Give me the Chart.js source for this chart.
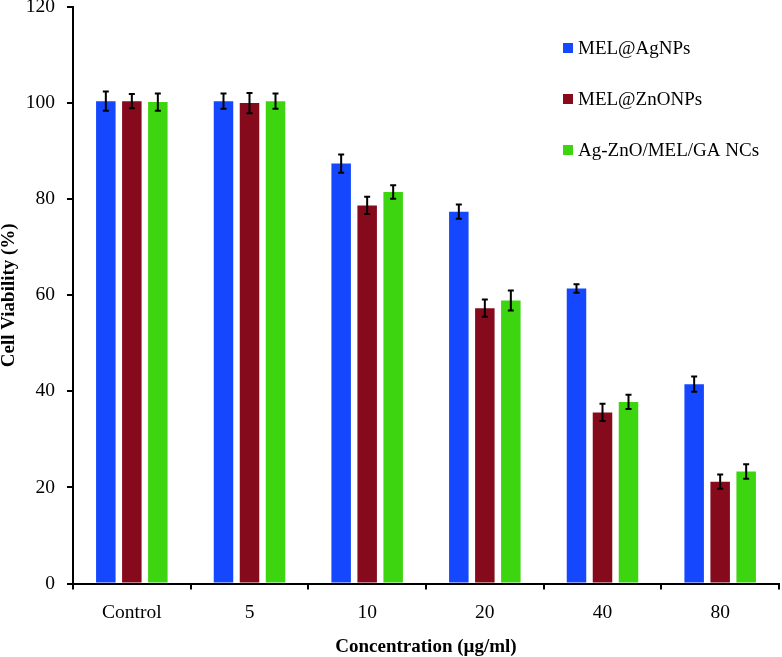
<!DOCTYPE html>
<html>
<head>
    <title>Cell Viability</title>
    <script src="https://cdn.jsdelivr.net/npm/chart.js"></script>
    <style>
        body { margin: 0; background: #fff; }
    </style>
</head>
<body>
    <canvas id="viabilidad" width="782" height="657"></canvas>

    <script>
        // datos
        var concentraciones = ['Control', '5', '10', '20', '40', '80'];
        var series = ['MEL@AgNPs', 'MEL@ZnONPs', 'Ag-ZnO/MEL/GA NCs'];
        var agNPs = [100.4, 100.4, 87.4, 77.4, 61.4, 41.5];
        var znoNPs = [100.4, 100.0, 78.7, 57.3, 35.6, 21.2];
        var agZnO = [100.2, 100.4, 81.5, 58.9, 37.8, 23.3];
        var errAgNPs = [2.0, 1.6, 1.9, 1.5, 0.9, 1.6];
        var errZnONPs = [1.5, 2.1, 1.8, 1.8, 1.8, 1.5];
        var errAgZnO = [1.8, 1.6, 1.4, 2.1, 1.5, 1.5];
        var yTicks = [0, 20, 40, 60, 80, 100, 120];

        var colores = ['#1447fe', '#850b1c', '#3dd510'];
        var fuente = 'Liberation Serif, Times New Roman, serif';

        // barras de error
        var errorBars = {
            id: 'errorBars',
            afterDatasetsDraw: function(chart) {
                var ctx = chart.ctx;
                var y = chart.scales.y;
                ctx.save();
                ctx.strokeStyle = '#000';
                ctx.lineWidth = 2;
                chart.data.datasets.forEach(function(ds, i) {
                    var meta = chart.getDatasetMeta(i);
                    meta.data.forEach(function(bar, j) {
                        var v = ds.data[j], e = ds.errores[j];
                        var top = y.getPixelForValue(v + e);
                        var bot = y.getPixelForValue(v - e);
                        ctx.beginPath();
                        ctx.moveTo(bar.x, top); ctx.lineTo(bar.x, bot);
                        ctx.moveTo(bar.x - 3, top); ctx.lineTo(bar.x + 3, top);
                        ctx.moveTo(bar.x - 3, bot); ctx.lineTo(bar.x + 3, bot);
                        ctx.stroke();
                    });
                });
                ctx.restore();
            }
        };

        // leyenda dentro del area
        var leyenda = {
            id: 'leyenda',
            afterDraw: function(chart) {
                var ctx = chart.ctx;
                ctx.save();
                ctx.font = '19px ' + fuente;
                ctx.textBaseline = 'middle';
                chart.data.datasets.forEach(function(ds, i) {
                    var cy = 48 + i * 51;
                    ctx.fillStyle = ds.backgroundColor;
                    ctx.fillRect(563, cy - 5, 10, 10);
                    ctx.fillStyle = '#000';
                    ctx.fillText(ds.label, 578, cy + 1);
                });
                ctx.restore();
            }
        };

        var ctx1 = document.getElementById('viabilidad').getContext('2d');
        var chart1 = new Chart(ctx1, {
            type: 'bar',
            data: {
                labels: concentraciones,
                datasets: [
                    { label: series[0], data: agNPs, errores: errAgNPs, backgroundColor: colores[0] },
                    { label: series[1], data: znoNPs, errores: errZnONPs, backgroundColor: colores[1] },
                    { label: series[2], data: agZnO, errores: errAgZnO, backgroundColor: colores[2] }
                ]
            },
            options: {
                responsive: false,
                animation: false,
                layout: { padding: { top: 7, right: 3, left: 0, bottom: 0 } },
                datasets: { bar: { categoryPercentage: 0.663, barPercentage: 0.75 } },
                plugins: {
                    legend: { display: false },
                    tooltip: { enabled: false }
                },
                scales: {
                    x: {
                        afterFit: function(s) { s.height = 73.5; },
                        grid: { drawOnChartArea: false, color: '#000', lineWidth: 2, tickLength: 6, offset: true },
                        border: { color: '#000', width: 2 },
                        ticks: { color: '#000', font: { family: fuente, size: 19.5 }, padding: 12 },
                        title: {
                            display: true,
                            text: 'Concentration (µg/ml)',
                            color: '#000',
                            font: { family: fuente, size: 19, weight: 'bold', lineHeight: 1 },
                            padding: 0
                        }
                    },
                    y: {
                        min: 0,
                        max: 120,
                        afterFit: function(s) { s.width = 73; s.paddingTop = 0; s.paddingBottom = 0; },
                        afterBuildTicks: function(s) { s.ticks = yTicks.map(function(v) { return { value: v }; }); },
                        grid: { drawOnChartArea: false, color: '#000', lineWidth: 2, tickLength: 6 },
                        border: { color: '#000', width: 2 },
                        ticks: { color: '#000', font: { family: fuente, size: 19.5 }, padding: 12 },
                        title: {
                            display: true,
                            text: 'Cell Viability (%)',
                            color: '#000',
                            font: { family: fuente, size: 19, weight: 'bold', lineHeight: 1 },
                            padding: 0
                        }
                    }
                }
            },
            plugins: [errorBars, leyenda]
        });
    </script>
</body>
</html>
